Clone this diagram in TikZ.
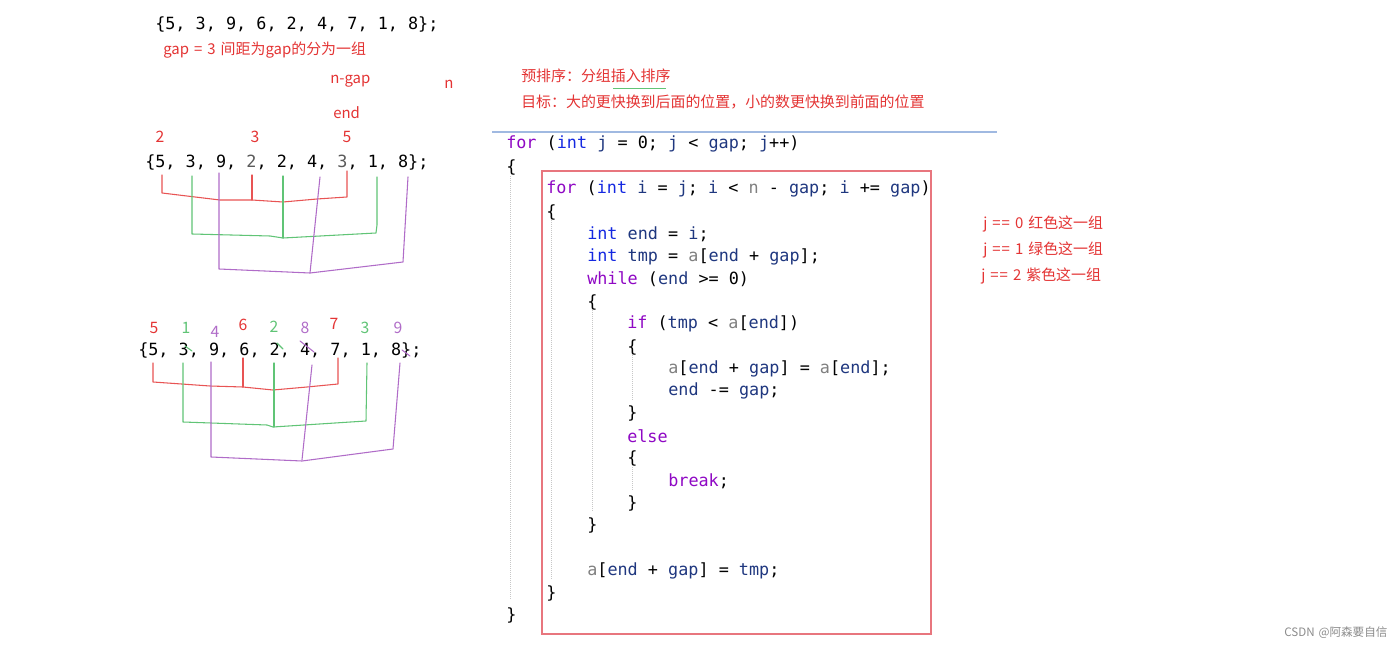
\documentclass[tikz,border=0pt]{standalone}
\usepackage{fontspec}
\setmainfont{Noto Sans CJK SC}[WordSpace=1.5]
\setmonofont{DejaVu Sans Mono}

\definecolor{notered}{RGB}{228,52,52}
\definecolor{kwpurple}{RGB}{143,8,196}
\definecolor{kwblue}{RGB}{20,40,225}
\definecolor{varblue}{RGB}{31,55,127}
\definecolor{parmgray}{RGB}{128,128,128}
\definecolor{grpred}{RGB}{232,84,84}
\definecolor{grpgreen}{RGB}{96,196,118}
\definecolor{grppurple}{RGB}{176,108,200}
\definecolor{boxred}{RGB}{232,118,126}
\definecolor{ruleblue}{RGB}{160,185,225}
\definecolor{scrib}{RGB}{90,90,90}

\newcommand{\kwd}[1]{\textcolor{kwpurple}{#1}}
\newcommand{\typ}[1]{\textcolor{kwblue}{#1}}
\newcommand{\vn}[1]{\textcolor{varblue}{#1}}
\newcommand{\prm}[1]{\textcolor{parmgray}{#1}}
\newcommand{\eqeq}{=\kern0.8pt=}

\begin{document}
\begin{tikzpicture}[x=0.75pt, y=-0.75pt,
  every node/.style={inner sep=0pt, anchor=west},
  codeline/.style={font=\ttfamily\fontsize{12.6}{15}\selectfont, yshift=-1.5pt},
  redtxt/.style={text=notered, font=\fontsize{11.2}{13}\selectfont},
  numlbl/.style={anchor=center, font=\fontsize{11.8}{13}\selectfont},
  handline/.style={line width=0.8pt, line join=round, line cap=round},
  guide/.style={black!22, densely dotted, line width=0.5pt}]

        \fill[white] (0,0) rectangle (1400,645);
        \useasboundingbox (0,0) rectangle (1400,645);

        % array and notes
        \node[codeline] (A) at (155,22) {\{5, 3, 9, 6, 2, 4, 7, 1, 8\};};
        \node[redtxt] (G) at (163,50) {gap = 3 间距为gap的分为一组};
        \node[redtxt] (NG) at (330,81) {n-gap};
        \node[redtxt] (N) at (444,84) {n};
        \node[redtxt] (E) at (333,113) {end};

        \node[numlbl, text=notered] (R1) at (160,137) {2};
        \node[numlbl, text=notered] (R2) at (255,137) {3};
        \node[numlbl, text=notered] (R3) at (347,137) {5};
        \node[codeline] (B) at (145,160) {\{5, 3, 9, \textcolor{scrib}{2}, 2, 4, \textcolor{scrib}{3}, 1, 8\};};

        \draw[handline, grpred] (162,175) -- (162,193) -- (220,200) -- (252,200) -- (283,202) -- (317,199) -- (347,197) -- (347,171);
        \draw[handline, grpred] (252,175) -- (252,200);
        \draw[handline, grpgreen] (192,176) -- (192,234) -- (270,236) -- (283,238) -- (376,233) -- (377,225) -- (377,177);
        \draw[handline, grpgreen] (283,176) -- (283,238);
        \draw[handline, grppurple] (219,173) -- (219,269) -- (310,273) -- (403,262) -- (408,177);
        \draw[handline, grppurple] (320,177) -- (310,273);

        \node[numlbl, text=notered] (S1) at (154,328) {5};
        \node[numlbl, text=grpgreen] (S2) at (186,328) {1};
        \node[numlbl, text=grppurple] (S3) at (215,332) {4};
        \node[numlbl, text=notered] (S4) at (243,325) {6};
        \node[numlbl, text=grpgreen] (S5) at (274,327) {2};
        \node[numlbl, text=grppurple] (S6) at (305,328) {8};
        \node[numlbl, text=notered] (S7) at (334,324) {7};
        \node[numlbl, text=grpgreen] (S8) at (365,328) {3};
        \node[numlbl, text=grppurple] (S9) at (398,328) {9};
        \node[codeline] (C) at (138,348) {\{5, 3, 9, 6, 2, 4, 7, 1, 8\};};

        \draw[handline, grpgreen] (185,346) -- (192,351);
        \draw[handline, grpgreen] (277,343) -- (283,349);
        \draw[handline, grppurple] (300,341) -- (314,352);
        \draw[handline, grppurple] (402,350) -- (410,356);

        \draw[handline, grpred] (153,363) -- (153,382) -- (210,386) -- (243,387) -- (273,390) -- (307,387) -- (338,384) -- (338,358);
        \draw[handline, grpred] (243,358) -- (243,387);
        \draw[handline, grpgreen] (183,363) -- (183,422) -- (267,425) -- (273,427) -- (366,421) -- (367,363);
        \draw[handline, grpgreen] (274,363) -- (274,427);
        \draw[handline, grppurple] (211,362) -- (211,457) -- (302,461) -- (393,449) -- (400,363);
        \draw[handline, grppurple] (312,365) -- (302,460);

        % notes above the code
        \node[redtxt] (P) at (521,76) {预排序：分组插入排序};
        \draw[grpgreen, line width=0.6pt] (613,88) -- (666,88);
        \node[redtxt] (T) at (521,102) {目标：大的更快换到后面的位置，小的数更快换到前面的位置};
        \draw[ruleblue, line width=0.8pt] (492,132) -- (997,132);

        \draw[guide] (510,176) -- (510,600);
        \draw[guide] (551,220) -- (551,580);
        \draw[guide] (592,310) -- (592,512);
        \draw[guide] (632,355) -- (632,400);
        \draw[guide] (632,467) -- (632,490);

        % the code
        \node[codeline] (L1) at (506,142) {\kwd{for} (\typ{int} \vn{j} = 0; \vn{j} < \vn{gap}; \vn{j}++)};
        \node[codeline] (L2) at (506,165) {\{};
        \node[codeline] (L3) at (546,187) {\kwd{for} (\typ{int} \vn{i} = \vn{j}; \vn{i} < \prm{n} - \vn{gap}; \vn{i} += \vn{gap})};
        \node[codeline] (L4) at (546,210) {\{};
        \node[codeline] (L5) at (587,232) {\typ{int} \vn{end} = \vn{i};};
        \node[codeline] (L6) at (587,255) {\typ{int} \vn{tmp} = \prm{a}[\vn{end} + \vn{gap}];};
        \node[codeline] (L7) at (587,277) {\kwd{while} (\vn{end} >= 0)};
        \node[codeline] (L8) at (587,300) {\{};
        \node[codeline] (L9) at (627,322) {\kwd{if} (\vn{tmp} < \prm{a}[\vn{end}])};
        \node[codeline] (L10) at (627,345) {\{};
        \node[codeline] (L11) at (668,367) {\prm{a}[\vn{end} + \vn{gap}] = \prm{a}[\vn{end}];};
        \node[codeline] (L12) at (668,389) {\vn{end} -= \vn{gap};};
        \node[codeline] (L13) at (627,411) {\}};
        \node[codeline] (L14) at (627,434) {\kwd{else}};
        \node[codeline] (L15) at (627,456) {\{};
        \node[codeline] (L16) at (668,479) {\kwd{break};};
        \node[codeline] (L17) at (627,501) {\}};
        \node[codeline] (L18) at (587,523) {\}};
        \node[codeline] (L19) at (587,569) {\prm{a}[\vn{end} + \vn{gap}] = \vn{tmp};};
        \node[codeline] (L20) at (546,591) {\}};
        \node[codeline] (L21) at (506,613) {\}};

        \draw[boxred, line width=0.8pt] (542,171) rectangle (931,634);

        \node[redtxt] (J0) at (983,224) {j \eqeq{} 0 红色这一组};
        \node[redtxt] (J1) at (983,250) {j \eqeq{} 1 绿色这一组};
        \node[redtxt] (J2) at (981,276) {j \eqeq{} 2 紫色这一组};

        \node[text=black!45, font=\fontsize{8.7}{10}\selectfont] (W) at (1284,633) {CSDN @阿森要自信};

\end{tikzpicture}
\end{document}
